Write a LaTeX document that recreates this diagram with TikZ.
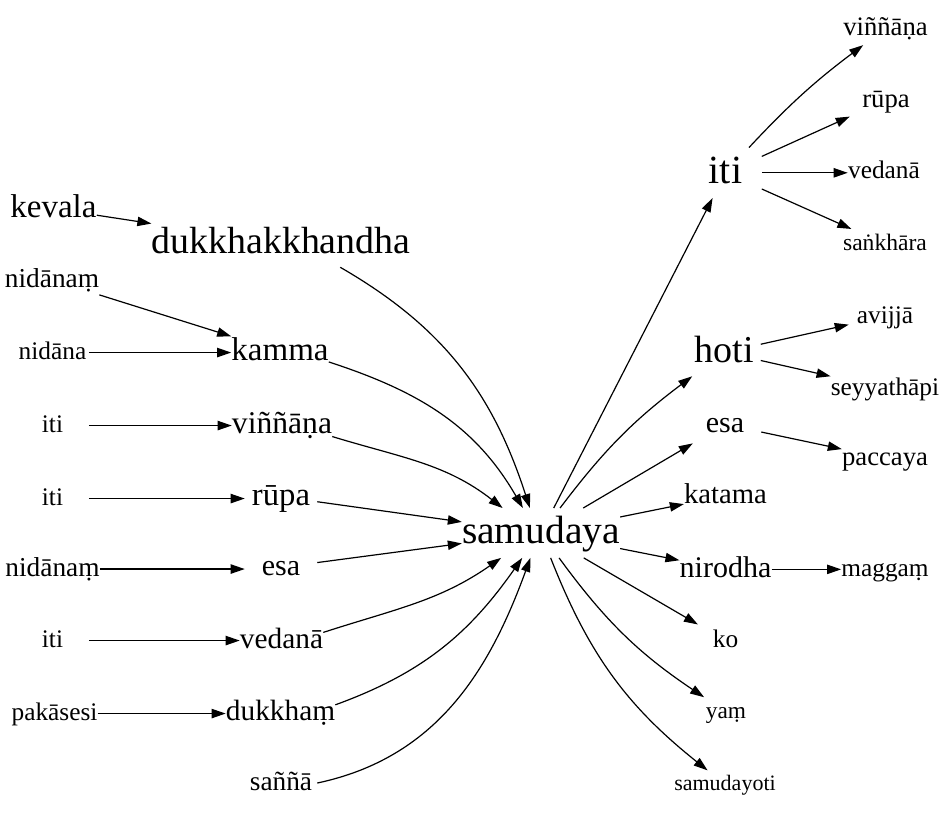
\documentclass[tikz,border=0pt]{standalone}
\usepackage{fontspec}
\setmainfont{Liberation Serif}
\usetikzlibrary{arrows.meta}

\begin{document}
\begin{tikzpicture}[
    x=0.75pt, y=-0.75pt,
    word/.style={inner sep=0pt, minimum width=54pt, anchor=base,
        font=\fontsize{#1}{#1}\selectfont, text height={0.88*#1pt}, text depth={0.37*#1pt}},
    arr/.style={-{Triangle[length=10.5pt, width=7pt]}, line width=0.9pt}
]
    \useasboundingbox (0,0) rectangle (945,815);

    % Left column
    \node[word=24.75] (kevala) at (53.5,217) {kevala};
    \node[word=20.5] (nidanam1) at (52,287) {nidānaṃ};
    \node[word=19] (nidana) at (52.5,359) {nidāna};
    \node[word=19] (iti1) at (52.5,432) {iti};
    \node[word=19] (iti2) at (52.5,505) {iti};
    \node[word=20.5] (nidanam2) at (52.5,576) {nidānaṃ};
    \node[word=19] (iti3) at (52.5,647) {iti};
    \node[word=19] (pakasesi) at (54.5,720) {pakāsesi};

    % Second column
    \node[word=28.4] (dukkhakkhandha) at (281,253) {dukkhakkhandha};
    \node[word=24.75] (kamma) at (280,360) {kamma};
    \node[word=23.7] (vinnana) at (282,433) {viññāṇa};
    \node[word=24.5] (rupa) at (281,505) {rūpa};
    \node[word=22.5] (esa) at (281,575) {esa};
    \node[word=22] (vedana) at (281.5,648) {vedanā};
    \node[word=22] (dukkham) at (280.5,720) {dukkhaṃ};
    \node[word=20.5] (sanna) at (281,790) {saññā};

    % Centre
    \node[word=29.6] (samudaya) at (541,543) {samudaya};

    % Right column
    \node[word=30] (iti) at (725.5,183) {iti};
    \node[word=28.5] (hoti) at (724.5,362) {hoti};
    \node[word=22.5] (esaR) at (725,432) {esa};
    \node[word=21.5] (katama) at (725.5,503) {katama};
    \node[word=22.5] (nirodha) at (725.5,577) {nirodha};
    \node[word=19] (ko) at (725.5,647) {ko};
    \node[word=17.5] (yam) at (726,718) {yaṃ};
    \node[word=16.5] (samudayoti) at (725,790) {samudayoti};

    % Far right
    \node[word=20] (vinnanaR) at (885.5,35) {viññāṇa};
    \node[word=20] (rupaR) at (886,107) {rūpa};
    \node[word=19] (vedanaR) at (884,178) {vedanā};
    \node[word=17.7] (sankhara) at (885,250) {saṅkhāra};
    \node[word=19] (avijja) at (885,323) {avijjā};
    \node[word=19] (seyyathapi) at (885,395) {seyyathāpi};
    \node[word=20] (paccaya) at (885,465) {paccaya};
    \node[word=19] (maggam) at (885,576) {maggaṃ};

    % Left links
    \draw[arr] (kevala) -- (dukkhakkhandha);
    \draw[arr] (nidanam1) -- (kamma);
    \draw[arr] (nidana) -- (nidana -| kamma.west);
    \draw[arr] (iti1) -- (iti1 -| vinnana.west);
    \draw[arr] (iti2) -- (iti2 -| rupa.west);
    \draw[arr] (nidanam2) -- (nidanam2 -| esa.west);
    \draw[arr] (iti3) -- (iti3 -| vedana.west);
    \draw[arr] (pakasesi) -- (pakasesi -| dukkham.west);

    % Into samudaya
    \draw[arr] (dukkhakkhandha.-22) to[out=-30, in=108] (samudaya.114);
    \draw[arr] (kamma.-12) to[out=-18, in=120] (samudaya.126);
    \draw[arr] (vinnana.-13) to[out=-17, in=142] (samudaya.147);
    \draw[arr] (rupa) -- (samudaya);
    \draw[arr] (esa) -- (samudaya);
    \draw[arr] (vedana.11) to[out=18, in=215] (samudaya.212);
    \draw[arr] (dukkham.8) to[out=20, in=235] (samudaya.233);
    \draw[arr] (sanna.east) to[out=12, in=250] (samudaya.247);

    % Out of samudaya
    \draw[arr] (samudaya) -- (iti);
    \draw[arr] (samudaya) to[bend left=8] (hoti);
    \draw[arr] (samudaya) -- (esaR);
    \draw[arr] (samudaya) -- (katama);
    \draw[arr] (samudaya) -- (nirodha);
    \draw[arr] (samudaya) -- (ko);
    \draw[arr] (samudaya) to[bend right=10] (yam);
    \draw[arr] (samudaya) to[bend right=15] (samudayoti);

    % Right links
    \draw[arr] (iti) to[bend left=5] (vinnanaR);
    \draw[arr] (iti) -- (rupaR);
    \draw[arr] (iti) -- (iti -| vedanaR.west);
    \draw[arr] (iti) -- (sankhara);
    \draw[arr] (hoti) -- (avijja);
    \draw[arr] (hoti) -- (seyyathapi);
    \draw[arr] (esaR) -- (paccaya);
    \draw[arr] (nirodha) -- (nirodha -| maggam.west);
\end{tikzpicture}
\end{document}
